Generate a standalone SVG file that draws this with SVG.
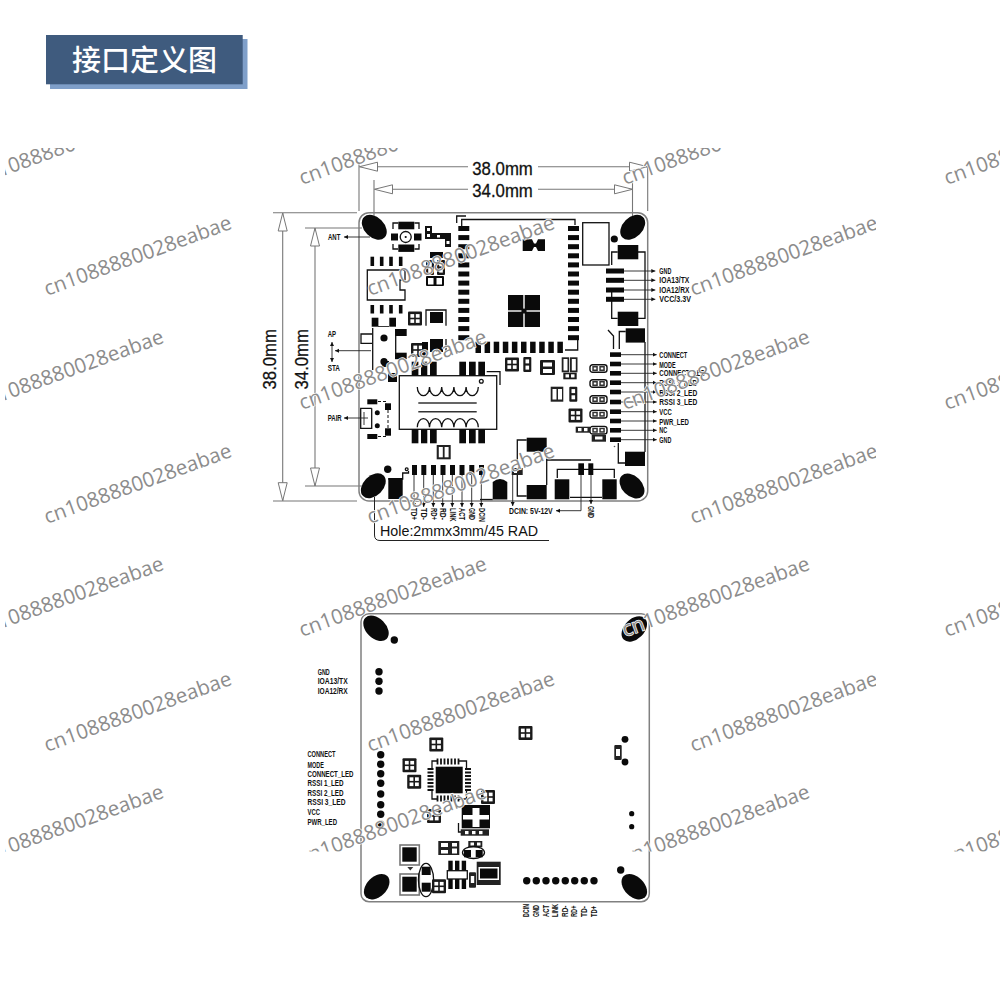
<svg xmlns="http://www.w3.org/2000/svg" width="1000" height="999" viewBox="0 0 1000 999">
<style>
.bd{fill:none;stroke:#808080;stroke-width:1.5}
.dim{fill:none;stroke:#777;stroke-width:1.1}
.k{fill:#0a0a0a}
.o{fill:none;stroke:#111;stroke-width:1.3}
.w{fill:#fff}
.l{fill:none;stroke:#222;stroke-width:.9}
.a{marker-end:url(#sa)}
.t{font-family:"Liberation Sans",Arial,sans-serif;font-weight:700;font-size:8.2px;fill:#111}
.d{font-family:"Liberation Sans",Arial,sans-serif;font-size:19px;fill:#111;stroke:#111;stroke-width:.3}
.wm{font-family:"Open Sans","Noto Sans",sans-serif;font-size:20.5px;fill:#8c8c8c;stroke:#fff;stroke-width:1.4;paint-order:stroke}
</style>
<defs>
<marker id="oa" markerUnits="userSpaceOnUse" markerWidth="20" markerHeight="12" refX="19" refY="6" orient="auto-start-reverse"><path d="M1 1.5L19 6L1 10.5Z" fill="#fff" stroke="#777" stroke-width="1"/></marker>
<marker id="sa" markerUnits="userSpaceOnUse" markerWidth="5" markerHeight="5" refX="4" refY="2.5" orient="auto-start-reverse"><path d="M0 .5L4 2.5L0 4.5Z" fill="#111"/></marker>
<clipPath id="cT"><rect x="5" y="148" width="995" height="120"/></clipPath>
<clipPath id="cL"><rect x="5" y="0" width="227" height="999"/></clipPath>
<clipPath id="cR"><rect x="600" y="0" width="276" height="999"/></clipPath>
<clipPath id="cB"><rect x="5" y="700" width="995" height="151.5"/></clipPath>
<g id="p4"><rect width="14" height="14" fill="#1a1a1a" rx="1"/><rect x="2.4" y="2.6" width="3.8" height="3.6" class="w"/><rect x="7.8" y="2.6" width="3.8" height="3.6" class="w"/><rect x="2.4" y="7.8" width="3.8" height="3.6" class="w"/><rect x="7.8" y="7.8" width="3.8" height="3.6" class="w"/></g>
<g id="p2"><rect width="8" height="15" fill="#1a1a1a" rx="1"/><rect x="2.2" y="2.4" width="3.6" height="4" class="w"/><rect x="2.2" y="8.6" width="3.6" height="4" class="w"/></g>
<g id="led"><rect x=".7" y=".7" width="17" height="7.6" rx="2.6" fill="#fff" stroke="#111" stroke-width="1.4"/><rect x="3" y="2" width="5.5" height="5" fill="#333"/><rect x="10" y="2" width="5.5" height="5" fill="#333"/><rect x="4.5" y="3.5" width="2.5" height="2" class="w"/><rect x="11.5" y="3.5" width="2.5" height="2" class="w"/></g>
<g id="col" class="k"><rect y="0" width="11" height="5"/><rect y="9.1" width="11" height="5"/><rect y="18.2" width="11" height="5"/><rect y="27.3" width="11" height="5"/><rect y="36.4" width="11" height="5"/><rect y="45.5" width="11" height="5"/><rect y="54.6" width="11" height="5"/><rect y="63.7" width="11" height="5"/><rect y="72.8" width="11" height="5"/><rect y="81.9" width="11" height="5"/><rect y="91" width="11" height="5"/><rect y="100.1" width="11" height="5"/><rect y="109.2" width="11" height="5"/></g>
</defs>

<g id="title">
<rect x="50" y="39" width="197.5" height="50" fill="#7f9fc9"/>
<rect x="46" y="35" width="196.7" height="49.3" fill="#3f5b7e"/>
<text x="72" y="71" font-family="'Noto Sans CJK SC','Noto Sans',sans-serif" font-size="29" font-weight="500" fill="#fff">接口定义图</text>
</g>

<g id="dimensions">
<line x1="359" y1="164" x2="359" y2="211" class="dim"/>
<line x1="647.7" y1="164" x2="647.7" y2="211" class="dim"/>
<line x1="374" y1="180" x2="374" y2="218" class="dim"/>
<line x1="632.5" y1="180" x2="632.5" y2="218" class="dim"/>
<path d="M468 166.7H359.5" class="dim" marker-end="url(#oa)"/>
<path d="M538 166.7H647.5" class="dim" marker-end="url(#oa)"/>
<path d="M468 189.3H374.5" class="dim" marker-end="url(#oa)"/>
<path d="M538 189.3H632.5" class="dim" marker-end="url(#oa)"/>
<text x="472.3" y="175" class="d" textLength="60.5" lengthAdjust="spacingAndGlyphs">38.0mm</text>
<text x="472.3" y="197" class="d" textLength="60.5" lengthAdjust="spacingAndGlyphs">34.0mm</text>
<line x1="273" y1="212.7" x2="357" y2="212.7" class="dim"/>
<line x1="273" y1="501" x2="357" y2="501" class="dim"/>
<line x1="305" y1="228" x2="362" y2="228" class="dim"/>
<line x1="305" y1="486" x2="362" y2="486" class="dim"/>
<path d="M282.7 350V213" class="dim" marker-end="url(#oa)"/>
<path d="M282.7 350V500.7" class="dim" marker-end="url(#oa)"/>
<path d="M315 350V228" class="dim" marker-end="url(#oa)"/>
<path d="M315 350V486" class="dim" marker-end="url(#oa)"/>
<text transform="translate(276 389.5) rotate(-90)" class="d" textLength="60.5" lengthAdjust="spacingAndGlyphs">38.0mm</text>
<text transform="translate(308.3 389.5) rotate(-90)" class="d" textLength="60.5" lengthAdjust="spacingAndGlyphs">34.0mm</text>
</g>

<g id="board-top">
<rect x="359" y="212.7" width="288.7" height="288.3" rx="10" class="bd"/>
<g class="k">
<ellipse cx="374.3" cy="227.3" rx="14.5" ry="10" transform="rotate(45 374.3 227.3)"/>
<ellipse cx="632.7" cy="227.3" rx="14.5" ry="10" transform="rotate(-45 632.7 227.3)"/>
<ellipse cx="373.3" cy="485.7" rx="14.5" ry="10" transform="rotate(-45 373.3 485.7)"/>
<ellipse cx="632" cy="486" rx="14.5" ry="10" transform="rotate(45 632 486)"/>
<circle cx="614.3" cy="239" r="3.6"/>
<circle cx="387.7" cy="469.3" r="3.7"/>
</g>
</g>

<g id="antenna">
<path d="M393 229V223H398M414.5 223H419V229M393 244V249H398M414.5 249H419V244" class="o"/>
<rect x="398.3" y="221.7" width="16" height="7.6" class="k"/>
<rect x="398.3" y="244.5" width="16" height="7.4" class="k"/>
<rect x="391" y="233.5" width="7" height="7" class="k"/>
<rect x="414" y="233.5" width="7.5" height="7" class="k"/>
<circle cx="405.7" cy="237" r="5.5" class="o"/><circle cx="405.7" cy="237" r="1.1" class="k"/>
<path d="M425 226h7v7h19v14h-6v-8h-20z" fill="#111"/>
<rect x="427" y="228" width="3" height="3" class="w"/><rect x="427" y="234" width="3" height="3" class="w"/><rect x="437" y="235" width="3" height="2.5" class="w"/><rect x="446.5" y="241" width="3" height="3" class="w"/>
</g>

<g id="ic-left">
<path d="M367.3 270H405V280H400V290H405V300H367.3Z" class="o"/>
<g class="k">
<rect x="370.5" y="256.7" width="3.6" height="9.3"/><rect x="379.9" y="256.7" width="3.6" height="9.3"/><rect x="389.2" y="256.7" width="3.6" height="9.3"/><rect x="398.9" y="256.7" width="3.6" height="9.3"/>
<rect x="370.5" y="305" width="3.6" height="8.5"/><rect x="379.9" y="305" width="3.6" height="8.5"/><rect x="389.2" y="305" width="3.6" height="8.5"/><rect x="398.9" y="305" width="3.6" height="8.5"/>
<rect x="371.7" y="317.7" width="6.7" height="9"/><rect x="389.3" y="317.7" width="6.7" height="9"/>
<rect x="430" y="252" width="13" height="6"/>
</g>
<path d="M378 326.5H389" class="l"/>
<use href="#p2" x="426" y="260"/><use href="#p2" x="437" y="260"/>
<rect x="426" y="276" width="18" height="10" rx="1" class="k"/><rect x="428" y="278" width="5.5" height="6.5" class="w"/><rect x="436.5" y="278" width="5.5" height="6.5" class="w"/>
<use href="#p4" x="408" y="311.5"/>
<path d="M426 325.7V310H446V325.7" class="o"/>
<rect x="430" y="312" width="13" height="11" class="k"/>
</g>

<g id="switch-ap">
<path d="M372 334H361V343.3H372" class="o"/>
<path d="M372.7 328V370" class="o"/>
<circle cx="384" cy="338" r="3.6" class="k"/><circle cx="384" cy="361.7" r="3.6" class="k"/>
<rect x="395" y="329" width="11.7" height="7" class="k"/><rect x="395" y="352.7" width="11.7" height="6.5" class="k"/>
<path d="M395.7 336V353" class="o"/>
</g>

<g id="mid-parts">
<use href="#p4" x="411" y="343"/>
<rect x="388" y="373" width="9" height="9" class="k"/>
<rect x="382" y="361" width="7" height="6" class="k"/>
<rect x="430" y="339" width="13" height="13" class="k"/>
<rect x="422" y="342" width="6" height="13" class="k"/>
<path d="M446 352V339" class="o"/>
</g>

<g id="module">
<path d="M456.7 223V216H466M461.7 228V219.5H575V225" class="o"/>
<use href="#col" x="458.3" y="226"/>
<use href="#col" x="568" y="226"/>
<g class="k">
<rect x="475.5" y="341.7" width="5.5" height="11.3"/><rect x="484.6" y="341.7" width="5.5" height="11.3"/><rect x="493.7" y="341.7" width="5.5" height="11.3"/><rect x="502.8" y="341.7" width="5.5" height="11.3"/><rect x="511.9" y="341.7" width="5.5" height="11.3"/><rect x="521" y="341.7" width="5.5" height="11.3"/><rect x="530.1" y="341.7" width="5.5" height="11.3"/><rect x="539.2" y="341.7" width="5.5" height="11.3"/><rect x="548.3" y="341.7" width="5.5" height="11.3"/><rect x="557.4" y="341.7" width="5.5" height="11.3"/>
<path d="M522.7 239.3H532L534 243.5H536L538 239.3H545V251H538L536 247H534L532 251H522.7Z"/>
<rect x="508" y="295" width="15.3" height="15.3"/><rect x="524.7" y="295" width="15.3" height="15.3"/><rect x="508" y="311.7" width="15.3" height="15.3"/><rect x="524.7" y="311.7" width="15.3" height="15.3"/>
<circle cx="524" cy="311" r="2.6"/>
</g>
<path d="M565 350H577.7V340" class="o"/>
<rect x="582.7" y="222.7" width="26.3" height="42.3" class="o"/>
</g>

<g id="header-4pin">
<path d="M617.7 252H611.7V265M611.7 291V318.3H617.7M638 252H645V318.3H638" class="o"/>
<rect x="617.7" y="245" width="20.6" height="14.3" class="k"/>
<rect x="617.7" y="311.7" width="20.6" height="14.3" class="k"/>
<g class="k"><rect x="606" y="268.5" width="18" height="5"/><rect x="606" y="277.8" width="18" height="5"/><rect x="606" y="287.5" width="18" height="5"/><rect x="606" y="296.8" width="18" height="5"/></g>
</g>

<g id="header-10pin">
<path d="M608 330L613.5 336V349M619.3 349V331.5H625.7M645 342V452M618.3 443V463H625" class="o"/>
<rect x="625.7" y="328.3" width="19.3" height="14.3" class="k"/>
<rect x="625" y="451.7" width="20" height="14.3" class="k"/>
<g class="k"><rect x="610" y="352.3" width="11" height="4.6"/><rect x="610" y="361.7" width="11" height="4.6"/><rect x="610" y="371" width="11" height="4.6"/><rect x="610" y="380.4" width="11" height="4.6"/><rect x="610" y="389.7" width="11" height="4.6"/><rect x="610" y="399.7" width="11" height="4.6"/><rect x="610" y="409.4" width="11" height="4.6"/><rect x="610" y="418.7" width="11" height="4.6"/><rect x="610" y="428" width="11" height="4.6"/><rect x="610" y="437.4" width="11" height="4.6"/></g>
<circle cx="614.5" cy="446.5" r=".8" fill="#555"/>
<use href="#led" x="589.3" y="364"/><use href="#led" x="589.3" y="379"/><use href="#led" x="589.3" y="395"/><use href="#led" x="589.3" y="409.7"/><use href="#led" x="589.3" y="425.7"/>
<rect x="575.7" y="426.7" width="14.3" height="6" fill="#222"/><rect x="578" y="428" width="3.5" height="3.2" class="w"/><rect x="584" y="428" width="3.5" height="3.2" class="w"/>
<rect x="591.7" y="435" width="14.3" height="6.7" fill="#222"/><rect x="595" y="436.5" width="7.5" height="3" class="w"/>
</g>

<g id="mid-right">
<use href="#p4" x="505" y="357.5"/><use href="#p2" x="523.3" y="357"/>
<rect x="540" y="360" width="15" height="15" fill="#1a1a1a" rx="1"/><rect x="543" y="362.5" width="9" height="4" class="w"/><rect x="543" y="369" width="9" height="4" class="w"/>
<rect x="561.7" y="357.3" width="7.5" height="15" fill="#222"/><rect x="563.5" y="359" width="4" height="11.5" class="w"/>
<rect x="570" y="357.3" width="7.5" height="15" fill="#222"/><rect x="571.8" y="359" width="4" height="11.5" class="w"/>
<rect x="563.3" y="372.7" width="13.4" height="6.6" fill="#1a1a1a"/><rect x="565.5" y="374.3" width="3.5" height="3.2" class="w"/><rect x="571" y="374.3" width="3.5" height="3.2" class="w"/>
<rect x="550.7" y="386.7" width="12.6" height="15" fill="#222"/><rect x="552.5" y="389" width="4" height="10.5" class="w"/><rect x="558" y="389" width="4" height="10.5" class="w"/>
<use href="#p2" x="569.3" y="386.7"/>
<use href="#p4" x="568.5" y="408.5"/>
<rect x="436.7" y="445" width="14" height="14.3" fill="#222"/><rect x="438.8" y="447" width="4" height="10.3" class="w"/><rect x="444.6" y="447" width="4" height="10.3" class="w"/>
</g>

<g id="transformer">
<rect x="399.3" y="375.7" width="97.4" height="53.6" class="o"/>
<g class="k">
<rect x="411.7" y="361.7" width="6.7" height="14"/><rect x="421" y="361.7" width="6.3" height="14"/><rect x="430" y="361.7" width="6.7" height="14"/><rect x="459.3" y="361.7" width="6.7" height="14"/><rect x="469" y="361.7" width="6.7" height="14"/><rect x="478.3" y="361.7" width="6.7" height="14"/>
<rect x="411.7" y="429.3" width="6.7" height="14"/><rect x="421" y="429.3" width="6.3" height="14"/><rect x="430" y="429.3" width="6.7" height="14"/><rect x="459.3" y="429.3" width="6.7" height="14"/><rect x="469" y="429.3" width="6.7" height="14"/><rect x="478.3" y="429.3" width="6.7" height="14"/>
</g>
<circle cx="481.3" cy="381.3" r="1.9" class="o"/>
<path d="M417.3 387a6.1 8.7 0 0 0 12.2 0a6.1 8.7 0 0 0 12.2 0a6.1 8.7 0 0 0 12.2 0a6.1 8.7 0 0 0 12.2 0a6.1 8.7 0 0 0 12.2 0" class="o"/>
<path d="M417.3 427.3a6.1 8.7 0 0 1 12.2 0a6.1 8.7 0 0 1 12.2 0a6.1 8.7 0 0 1 12.2 0a6.1 8.7 0 0 1 12.2 0a6.1 8.7 0 0 1 12.2 0" class="o"/>
<path d="M418.3 403H476.7M418.3 411.7H476.7" fill="none" stroke="#333" stroke-width="1.5"/>
<path d="M486.7 371.7H500V385" class="o"/>
</g>

<g id="switch-pair">
<path d="M371.7 408.3H360.7V428.3H371.7V408.3" class="o"/>
<path d="M364 412V425" class="l"/>
<g class="k"><rect x="367.3" y="399.3" width="10" height="5"/><rect x="367.3" y="434" width="10" height="5"/><rect x="385" y="403.3" width="6" height="6.7"/><rect x="385" y="428.3" width="6" height="7.4"/><circle cx="377.3" cy="412.7" r="2.5"/><circle cx="377.3" cy="425.7" r="2.5"/></g>
<path d="M378 401.5H386V404M378 436.5H386V434M388 410V428" fill="none" stroke="#111" stroke-width="1" stroke-dasharray="3 2"/>
</g>

<g id="rj-row">
<path d="M388.3 479H402.7V473H408.5V471" class="o"/>
<rect x="388.3" y="478" width="14.4" height="21" class="k"/>
<circle cx="406.7" cy="469.3" r="1.4" class="o"/>
<g class="k"><rect x="421.3" y="465" width="5" height="10"/><rect x="412" y="465" width="5" height="10"/><rect x="431" y="465" width="5" height="10"/><rect x="440.5" y="465" width="5" height="10"/><rect x="450" y="465" width="5" height="10"/><rect x="459.5" y="465" width="5" height="10"/><rect x="469.3" y="465" width="5" height="10"/><rect x="479" y="465" width="5" height="10"/></g>
</g>

<g id="power">
<path d="M480 499.5H492.7" class="o"/>
<path d="M492.7 499.5V482Q500 476 507.3 482V499.5Z" class="k"/>
<rect x="526.7" y="437.7" width="20" height="14" class="k"/>
<rect x="526.7" y="485" width="20" height="14.3" class="k"/>
<path d="M526.7 440H517.3V461.5M517.3 475V496H526.7" class="o"/>
<rect x="511.7" y="468" width="11" height="7" fill="#222"/><rect x="514" y="470" width="3" height="3" class="w"/>
<path d="M546.7 460H591M546.7 452V485" class="o"/>
<rect x="554.7" y="479.3" width="14.6" height="20" class="k"/>
<rect x="602.3" y="479.3" width="14.4" height="20" class="k"/>
<path d="M557.3 478V469.3H614.3V478M570 497.3H602" class="o"/>
<rect x="578.3" y="463.3" width="5.7" height="11.7" class="k"/>
<rect x="588.3" y="463.3" width="5" height="11.7" class="k"/>
</g>

<g id="connectors">
<path d="M370 237H344" class="l a"/>
<path d="M332 342V362" class="l" marker-start="url(#sa)" marker-end="url(#sa)"/>
<path d="M371 350.7H335" class="l a"/>
<path d="M368 418H344" class="l a"/>
<path d="M624 271H655.3" class="l a"/><path d="M624 280.3H655.3" class="l a"/><path d="M624 290H655.3" class="l a"/><path d="M624 299.3H655.3" class="l a"/>
<path d="M621 354.7H656.7" class="l a"/><path d="M621 364H656.7" class="l a"/><path d="M621 373.3H656.7" class="l a"/><path d="M621 382.7H656.7" class="l a"/><path d="M621 392H656.7" class="l a"/><path d="M621 402H656.7" class="l a"/><path d="M621 411.7H656.7" class="l a"/><path d="M621 421H656.7" class="l a"/><path d="M621 430.3H656.7" class="l a"/><path d="M621 439.7H656.7" class="l a"/>
<path d="M414 475V507" class="l a"/><path d="M423.7 475V507" class="l a"/><path d="M433.3 475V507" class="l a"/><path d="M442.7 475V507" class="l a"/><path d="M452.3 475V507" class="l a"/><path d="M462 475V507" class="l a"/><path d="M471.7 475V507" class="l a"/><path d="M481.3 475V507" class="l a"/>
<path d="M512.7 475V506" class="l a"/>
<path d="M581 475V510.7H556" class="l a"/>
<path d="M591 475V504" class="l a"/>
<path d="M374.5 497V535Q374.5 540.5 380 540.5H549" fill="none" stroke="#222" stroke-width="1"/>
</g>

<g id="labels-top">
<text x="328" y="239.5" class="t" textLength="12.3" lengthAdjust="spacingAndGlyphs">ANT</text>
<text x="327.7" y="337" class="t" textLength="8.3" lengthAdjust="spacingAndGlyphs">AP</text>
<text x="327.7" y="371" class="t" textLength="12.3" lengthAdjust="spacingAndGlyphs">STA</text>
<text x="327.7" y="421" class="t" textLength="14" lengthAdjust="spacingAndGlyphs">PAIR</text>
<text x="659.3" y="273.8" class="t" textLength="12" lengthAdjust="spacingAndGlyphs">GND</text>
<text x="659.3" y="283.2" class="t" textLength="30" lengthAdjust="spacingAndGlyphs">IOA13/TX</text>
<text x="659.3" y="292.8" class="t" textLength="30" lengthAdjust="spacingAndGlyphs">IOA12/RX</text>
<text x="659.3" y="302.2" class="t" textLength="31.7" lengthAdjust="spacingAndGlyphs">VCC/3.3V</text>
<text x="659.3" y="357.6" class="t" textLength="28" lengthAdjust="spacingAndGlyphs">CONNECT</text>
<text x="659.3" y="367.5" class="t" textLength="16.3" lengthAdjust="spacingAndGlyphs">MODE</text>
<text x="659.3" y="376.3" class="t" textLength="46" lengthAdjust="spacingAndGlyphs">CONNECT_LED</text>
<text x="659.3" y="386" class="t" textLength="38" lengthAdjust="spacingAndGlyphs">RSSI 1_LED</text>
<text x="659.3" y="395.5" class="t" textLength="38" lengthAdjust="spacingAndGlyphs">RSSI 2_LED</text>
<text x="659.3" y="405" class="t" textLength="38" lengthAdjust="spacingAndGlyphs">RSSI 3_LED</text>
<text x="659.3" y="414.7" class="t" textLength="12.5" lengthAdjust="spacingAndGlyphs">VCC</text>
<text x="659.3" y="424.5" class="t" textLength="29.5" lengthAdjust="spacingAndGlyphs">PWR_LED</text>
<text x="659.3" y="433.3" class="t" textLength="8" lengthAdjust="spacingAndGlyphs">NC</text>
<text x="659.3" y="442.7" class="t" textLength="12" lengthAdjust="spacingAndGlyphs">GND</text>
<text transform="translate(411.3 508) rotate(90)" class="t" textLength="12" lengthAdjust="spacingAndGlyphs">TD+</text>
<text transform="translate(421 508) rotate(90)" class="t" textLength="12" lengthAdjust="spacingAndGlyphs">TD-</text>
<text transform="translate(430.6 508) rotate(90)" class="t" textLength="12" lengthAdjust="spacingAndGlyphs">RD+</text>
<text transform="translate(440 508) rotate(90)" class="t" textLength="12" lengthAdjust="spacingAndGlyphs">RD-</text>
<text transform="translate(449.6 508) rotate(90)" class="t" textLength="13.5" lengthAdjust="spacingAndGlyphs">LINK</text>
<text transform="translate(459.3 508) rotate(90)" class="t" textLength="12" lengthAdjust="spacingAndGlyphs">ACT</text>
<text transform="translate(469 508) rotate(90)" class="t" textLength="12" lengthAdjust="spacingAndGlyphs">GND</text>
<text transform="translate(478.6 508) rotate(90)" class="t" textLength="14" lengthAdjust="spacingAndGlyphs">DCIN</text>
<text x="509" y="513.7" class="t" textLength="43.7" lengthAdjust="spacingAndGlyphs">DCIN: 5V-12V</text>
<text transform="translate(588.3 506) rotate(90)" class="t" textLength="12" lengthAdjust="spacingAndGlyphs">GND</text>
<text x="380" y="536" font-family="'Liberation Sans',Arial,sans-serif" font-size="14" fill="#111" textLength="158" lengthAdjust="spacingAndGlyphs">Hole:2mmx3mm/45 RAD</text>
</g>

<g id="board-bottom">
<rect x="361" y="613.7" width="288.3" height="288" rx="8" class="bd"/>
<g class="k">
<ellipse cx="376" cy="628.3" rx="15" ry="10" transform="rotate(45 376 628.3)"/>
<ellipse cx="634.3" cy="629" rx="15" ry="10" transform="rotate(-45 634.3 629)"/>
<ellipse cx="376.7" cy="886.7" rx="15" ry="10" transform="rotate(-45 376.7 886.7)"/>
<ellipse cx="634.3" cy="886.7" rx="15" ry="10" transform="rotate(45 634.3 886.7)"/>
<circle cx="394.3" cy="640" r="3.7"/><circle cx="620.7" cy="870" r="3.7"/>
<circle cx="379" cy="671.7" r="3.7"/><circle cx="379" cy="681.3" r="3.7"/><circle cx="379" cy="691" r="3.7"/>
<circle cx="380.7" cy="754.7" r="3.7"/><circle cx="380.7" cy="764.3" r="3.7"/><circle cx="380.7" cy="773.7" r="3.7"/><circle cx="380.7" cy="783.3" r="3.7"/><circle cx="380.7" cy="794" r="3.7"/><circle cx="380.7" cy="804.7" r="3.7"/><circle cx="380.7" cy="814.3" r="3.7"/><circle cx="380.7" cy="824.3" r="3.7"/>
<circle cx="625" cy="739.3" r="3.4"/><circle cx="625" cy="762" r="3.4"/><circle cx="631.7" cy="813.7" r="2.6"/><circle cx="631.7" cy="826.7" r="2.6"/>
<circle cx="526.7" cy="880.7" r="3.7"/><circle cx="536.3" cy="880.7" r="3.7"/><circle cx="546" cy="880.7" r="3.7"/><circle cx="555.7" cy="880.7" r="3.7"/><circle cx="565.3" cy="880.7" r="3.7"/><circle cx="574.7" cy="880.7" r="3.7"/><circle cx="584.3" cy="880.7" r="3.7"/><circle cx="594" cy="880.7" r="3.7"/>
</g>
<rect x="614.3" y="745" width="7.4" height="15" rx="1" fill="#222"/><rect x="616" y="749" width="4" height="7" class="w"/>
<use href="#p4" x="518.5" y="726"/>
<use href="#p4" x="429.3" y="737.5"/><use href="#p4" x="402.5" y="758.3"/><use href="#p4" x="407.2" y="774.7"/><use href="#p4" x="481" y="790"/>
</g>

<g id="mcu">
<path d="M432 770V761H438M459 761H466.5V770M432 790V799H438M459 799H466.5V790" class="o"/>
<rect x="435.7" y="766.7" width="27" height="26.6" class="k"/>
<path d="M437.5 758.5v6M441 758.5v6M444.5 758.5v6M448 758.5v6M451.5 758.5v6M455 758.5v6M458.5 758.5v6M437.5 795.5v6M441 795.5v6M444.5 795.5v6M448 795.5v6M451.5 795.5v6M455 795.5v6M458.5 795.5v6M427.5 769h6M427.5 772.5h6M427.5 776h6M427.5 779.5h6M427.5 783h6M427.5 786.5h6M427.5 790h6M465 769h6M465 772.5h6M465 776h6M465 779.5h6M465 783h6M465 786.5h6M465 790h6" fill="none" stroke="#111" stroke-width="1.8"/>
</g>

<g id="bottom-parts">
<use href="#p4" x="427" y="809"/>
<rect x="461.7" y="805" width="28.3" height="23.3" class="k"/>
<rect x="463" y="815" width="26" height="4.5" class="w"/><rect x="472.5" y="808" width="7" height="19" class="w"/>
<path d="M458.5 823V832H461" class="o"/>
<rect x="460.7" y="829.3" width="28.3" height="6.4" fill="#222"/><rect x="465" y="831" width="3.5" height="3.2" class="w"/><rect x="472" y="831" width="3.5" height="3.2" class="w"/><rect x="479" y="831" width="3.5" height="3.2" class="w"/>
<rect x="438.3" y="841" width="21" height="14" fill="#222"/><rect x="441" y="843" width="7" height="4" class="w"/><rect x="441" y="850" width="7" height="3.5" class="w"/><rect x="452" y="843" width="5" height="3.5" class="w"/><rect x="452" y="848.5" width="5" height="5" class="w"/>
<rect x="468.3" y="841" width="14" height="6.3" fill="#222"/><rect x="470.5" y="842.5" width="3.5" height="3" class="w"/><rect x="477" y="842.5" width="3.5" height="3" class="w"/>
<ellipse cx="473.5" cy="852.5" rx="11" ry="6" class="o"/>
<rect x="464" y="850" width="7" height="7.3" class="k"/><rect x="475.7" y="850" width="7" height="7.3" class="k"/>
<rect x="400" y="845" width="19.3" height="20" fill="#fff" stroke="#777" stroke-width="1.6"/><rect x="402.3" y="847.3" width="14.4" height="14.4" class="k"/>
<rect x="400" y="874" width="19.3" height="21" fill="#fff" stroke="#777" stroke-width="1.6"/><rect x="402.3" y="876.7" width="14.4" height="15" class="k"/>
<path d="M407.3 867H413.3L410.3 870.5Z" fill="#333"/>
<ellipse cx="426" cy="880" rx="7.6" ry="16.7" class="o"/>
<rect x="421.7" y="866.7" width="9" height="8.3" class="k"/><rect x="421.7" y="882.7" width="9" height="9" class="k"/>
<use href="#p4" x="432" y="879.3"/>
<g class="k"><rect x="448.3" y="860.7" width="4.4" height="10"/><rect x="455" y="860.7" width="4.4" height="10"/><rect x="461.7" y="860.7" width="4.4" height="10"/><rect x="448.3" y="879" width="4.4" height="10"/><rect x="455" y="879" width="4.4" height="10"/><rect x="461.7" y="879" width="4.4" height="10"/></g>
<rect x="447.3" y="870.7" width="20" height="8.3" class="o"/>
<rect x="469" y="872.3" width="7" height="15.4" rx="1" fill="#222"/><rect x="470.8" y="876" width="3.4" height="7" class="w"/>
<rect x="476.7" y="861.7" width="24" height="23.3" fill="#222"/><rect x="478.5" y="867" width="20.5" height="13" class="w"/><rect x="480" y="868.5" width="17.5" height="10" class="k"/>
</g>

<g id="labels-bottom">
<text x="317.7" y="674.5" class="t" textLength="12" lengthAdjust="spacingAndGlyphs">GND</text>
<text x="317.7" y="684" class="t" textLength="30" lengthAdjust="spacingAndGlyphs">IOA13/TX</text>
<text x="317.7" y="694" class="t" textLength="30" lengthAdjust="spacingAndGlyphs">IOA12/RX</text>
<text x="307.5" y="757.3" class="t" textLength="28" lengthAdjust="spacingAndGlyphs">CONNECT</text>
<text x="307.5" y="768" class="t" textLength="16.3" lengthAdjust="spacingAndGlyphs">MODE</text>
<text x="307.5" y="776.5" class="t" textLength="46" lengthAdjust="spacingAndGlyphs">CONNECT_LED</text>
<text x="307.5" y="786" class="t" textLength="36" lengthAdjust="spacingAndGlyphs">RSSI 1_LED</text>
<text x="307.5" y="795.5" class="t" textLength="36" lengthAdjust="spacingAndGlyphs">RSSI 2_LED</text>
<text x="307.5" y="805" class="t" textLength="38" lengthAdjust="spacingAndGlyphs">RSSI 3_LED</text>
<text x="307.5" y="814.5" class="t" textLength="12.5" lengthAdjust="spacingAndGlyphs">VCC</text>
<text x="307.5" y="824.5" class="t" textLength="29.5" lengthAdjust="spacingAndGlyphs">PWR_LED</text>
<text transform="translate(529.4 917) rotate(-90)" class="t" textLength="13" lengthAdjust="spacingAndGlyphs">DCIN</text>
<text transform="translate(539 917) rotate(-90)" class="t" textLength="12" lengthAdjust="spacingAndGlyphs">GND</text>
<text transform="translate(548.7 917) rotate(-90)" class="t" textLength="12" lengthAdjust="spacingAndGlyphs">ACT</text>
<text transform="translate(558.4 917) rotate(-90)" class="t" textLength="13" lengthAdjust="spacingAndGlyphs">LINK</text>
<text transform="translate(568 917) rotate(-90)" class="t" textLength="11.5" lengthAdjust="spacingAndGlyphs">RD-</text>
<text transform="translate(577.4 917) rotate(-90)" class="t" textLength="11.5" lengthAdjust="spacingAndGlyphs">RD+</text>
<text transform="translate(587 917) rotate(-90)" class="t" textLength="11" lengthAdjust="spacingAndGlyphs">TD-</text>
<text transform="translate(596.7 917) rotate(-90)" class="t" textLength="11" lengthAdjust="spacingAndGlyphs">TD+</text>
</g>

<g id="watermarks">
<g clip-path="url(#cT)">
<text transform="translate(-21 185) rotate(-20)" class="wm">cn1088880028eabae</text>
<text transform="translate(302 185) rotate(-20)" class="wm">cn1088880028eabae</text>
<text transform="translate(625 185) rotate(-20)" class="wm">cn1088880028eabae</text>
<text transform="translate(947 185) rotate(-20)" class="wm">cn1088880028eabae</text>
</g>
<g clip-path="url(#cL)">
<text transform="translate(47 296) rotate(-20)" class="wm">cn1088880028eabae</text>
<text transform="translate(47 524) rotate(-20)" class="wm">cn1088880028eabae</text>
<text transform="translate(47 752) rotate(-20)" class="wm">cn1088880028eabae</text>
<text transform="translate(-21 410) rotate(-20)" class="wm">cn1088880028eabae</text>
<text transform="translate(-21 637) rotate(-20)" class="wm">cn1088880028eabae</text>
</g>
<g clip-path="url(#cR)">
<text transform="translate(693 296) rotate(-20)" class="wm">cn1088880028eabae</text>
<text transform="translate(693 524) rotate(-20)" class="wm">cn1088880028eabae</text>
<text transform="translate(693 752) rotate(-20)" class="wm">cn1088880028eabae</text>
</g>
<text transform="translate(370 296) rotate(-20)" class="wm">cn1088880028eabae</text>
<text transform="translate(370 524) rotate(-20)" class="wm">cn1088880028eabae</text>
<text transform="translate(370 752) rotate(-20)" class="wm">cn1088880028eabae</text>
<text transform="translate(302 410) rotate(-20)" class="wm">cn1088880028eabae</text>
<text transform="translate(625 410) rotate(-20)" class="wm">cn1088880028eabae</text>
<text transform="translate(947 410) rotate(-20)" class="wm">cn1088880028eabae</text>
<text transform="translate(302 637) rotate(-20)" class="wm">cn1088880028eabae</text>
<text transform="translate(625 637) rotate(-20)" class="wm">cn1088880028eabae</text>
<text transform="translate(947 637) rotate(-20)" class="wm">cn1088880028eabae</text>
<g clip-path="url(#cB)">
<text transform="translate(-21 865) rotate(-20)" class="wm">cn1088880028eabae</text>
<text transform="translate(302 865) rotate(-20)" class="wm">cn1088880028eabae</text>
<text transform="translate(625 865) rotate(-20)" class="wm">cn1088880028eabae</text>
<text transform="translate(947 865) rotate(-20)" class="wm">cn1088880028eabae</text>
</g>
</g>
</svg>
